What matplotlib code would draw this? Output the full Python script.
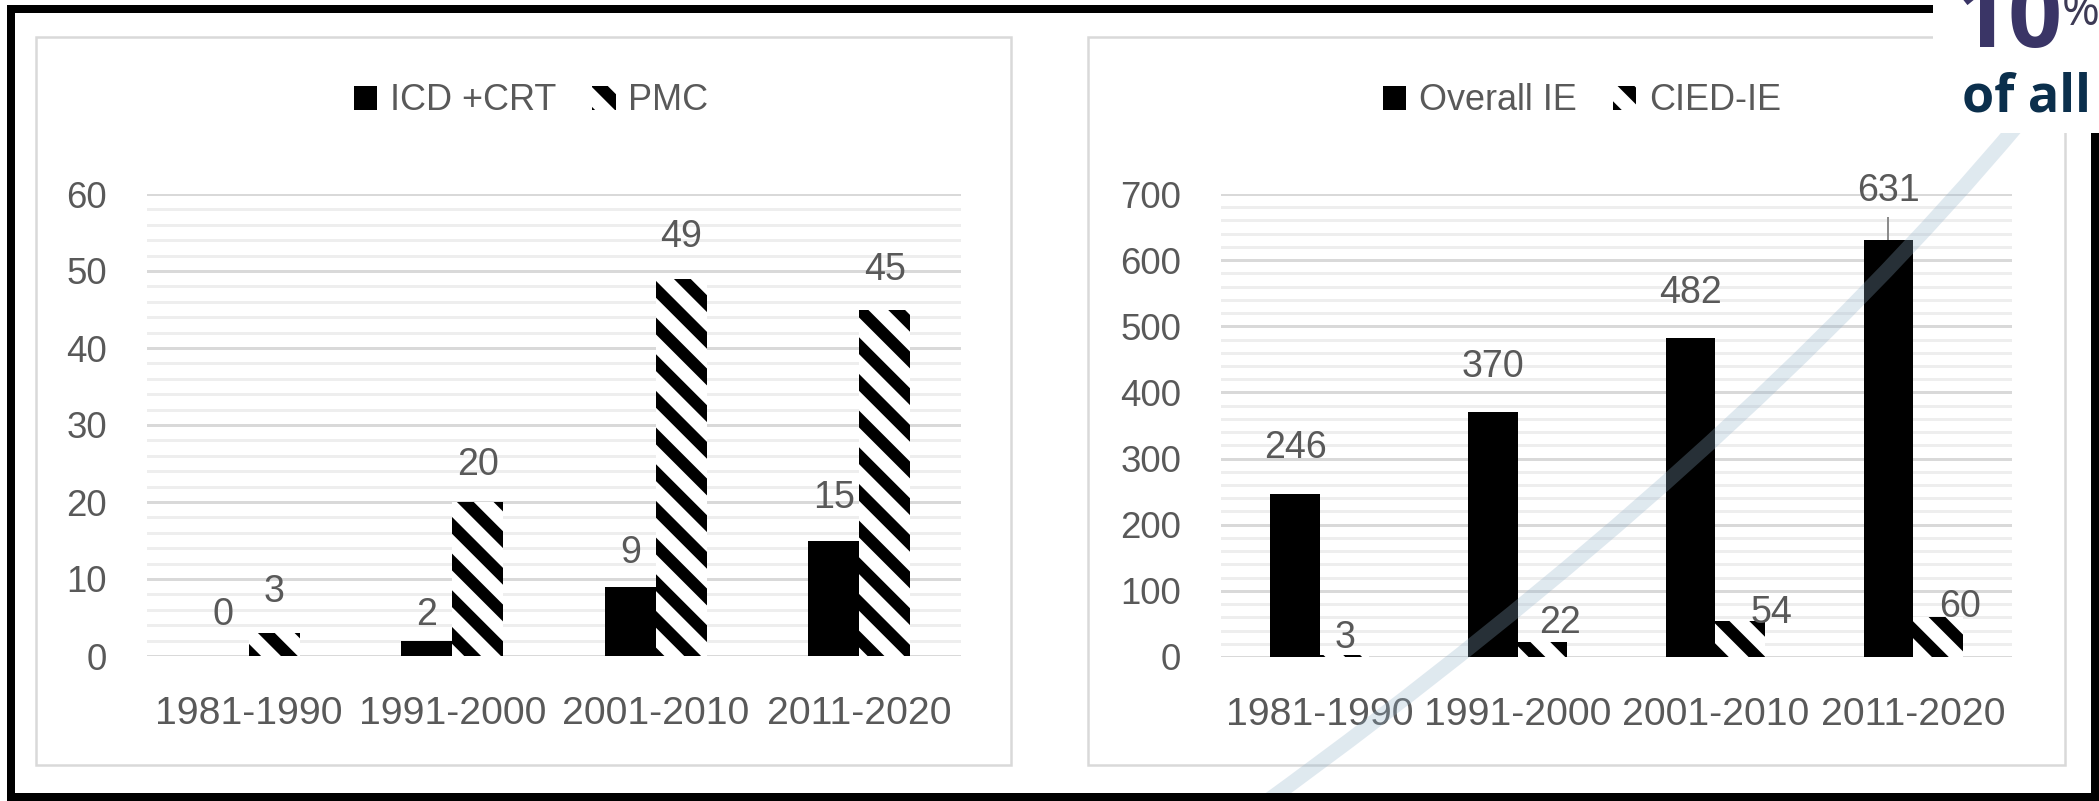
import matplotlib
matplotlib.use('Agg')
import matplotlib.pyplot as plt
import numpy as np
from matplotlib.patches import Rectangle, PathPatch
from matplotlib.path import Path

# data
decades = ['1981-1990', '1991-2000', '2001-2010', '2011-2020']
icd_crt = [0, 2, 9, 15]
pmc = [3, 20, 49, 45]
overall_ie = [246, 370, 482, 631]
overall_ie_err = [0, 0, 0, 34]
cied_ie = [3, 22, 54, 60]

# label offsets in pixels (the source placed some labels by hand)
icd_dy = [31, 16, 24, 32]
pmc_dy = [31, 27, 32, 30]
overall_dy = [36, 35, 35, 39]
cied_dx = [0, 18, 31, 22]
cied_dy = [7, 9, -2, 0]

W, H, DPI = 2099, 801, 220
TEXT = '#595959'

plt.rcParams['font.family'] = ['Liberation Sans', 'DejaVu Sans']
plt.rcParams['hatch.linewidth'] = 3.9


def px(v):
    """pixels -> points"""
    return v * 72 / DPI


def fx(x):
    return x / W


def fy(y):
    return 1 - y / H


fig = plt.figure(figsize=(W / DPI, H / DPI), dpi=DPI)
fig.patch.set_facecolor('white')

# light grey chart boxes
for x0, x1 in [(36, 1011), (1088, 2065)]:
    fig.add_artist(Rectangle((fx(x0), fy(765)), fx(x1 - x0), (765 - 37) / H,
                             transform=fig.transFigure, facecolor='white',
                             edgecolor='#d9d9d9', lw=px(2.5), zorder=-1))

ax1 = fig.add_axes([fx(147), fy(656), fx(814), 462 / H])
ax2 = fig.add_axes([fx(1221), fy(657), fx(791), 463 / H])


def style(ax, top, major, minor):
    ax.set_facecolor('none')
    ax.set_xlim(-0.5, 3.5)
    ax.set_ylim(0, top)
    ax.set_yticks(np.arange(0, top + 1, major))
    ax.set_yticks(np.arange(0, top + 1, minor), minor=True)
    ax.grid(which='major', axis='y', color='#d9d9d9', lw=px(3))
    ax.grid(which='minor', axis='y', color='#eeeeee', lw=px(3))
    ax.set_axisbelow(True)
    for s in ax.spines.values():
        s.set_visible(False)
    ax.tick_params(which='both', length=0)
    ax.tick_params(axis='x', pad=px(40), labelsize=12.8, labelcolor=TEXT)
    ax.tick_params(axis='y', pad=px(40), labelsize=12, labelcolor=TEXT)
    ax.set_xticks(range(len(decades)))
    ax.set_xticklabels(decades)


style(ax1, 60, 10, 2)
style(ax2, 700, 100, 20)

x = np.arange(len(decades))
w = 0.25
HATCH = '\\\\'

# left chart
b1 = ax1.bar(x - w / 2, icd_crt, w, color='black', zorder=2)
b2 = ax1.bar(x + w / 2, pmc, w, facecolor='white', edgecolor='black',
             hatch=HATCH, lw=0, zorder=2)

# right chart
ax2.errorbar(x - w / 2, overall_ie, yerr=overall_ie_err, fmt='none',
             ecolor='#8c8c8c', elinewidth=px(2), capsize=0, zorder=1.9)
b3 = ax2.bar(x - w / 2, overall_ie, w, color='black', zorder=2)
b4 = ax2.bar(x + w / 2, cied_ie, w, facecolor='white', edgecolor='black',
             hatch=HATCH, lw=0, zorder=2)


def labels(ax, xs, vals, dxs, dys):
    for xi, v, dx, dy in zip(xs, vals, dxs, dys):
        ax.annotate(str(v), (xi, v), xytext=(px(dx), px(dy)),
                    textcoords='offset points', ha='center', va='baseline',
                    fontsize=12.3, color=TEXT, zorder=3)


labels(ax1, x - w / 2, icd_crt, [0] * 4, icd_dy)
labels(ax1, x + w / 2, pmc, [0] * 4, pmc_dy)
labels(ax2, x - w / 2, overall_ie, [0] * 4, overall_dy)
labels(ax2, x + w / 2, cied_ie, cied_dx, cied_dy)

leg_kw = dict(loc='center', ncol=2, frameon=False, fontsize=11.8,
              labelcolor=TEXT, handlelength=0.65, handleheight=0.65,
              handletextpad=0.35, columnspacing=1.0, borderpad=0)
fig.legend([b1, b2], ['ICD +CRT', 'PMC'],
           bbox_to_anchor=(fx(531), fy(101)), **leg_kw)
fig.legend([b3, b4], ['Overall IE', 'CIED-IE'],
           bbox_to_anchor=(fx(1582), fy(101)), **leg_kw)

# faint blue swoosh crossing the right chart
swoosh = Path([(fx(1262), fy(805)), (fx(1735), fy(462)), (fx(2020), fy(122))],
              [Path.MOVETO, Path.CURVE3, Path.CURVE3])
fig.add_artist(PathPatch(swoosh, transform=fig.transFigure, facecolor='none',
                         edgecolor='#8fb0c8', alpha=0.28, lw=px(15), zorder=5))

# black screenshot frame
fig.add_artist(Rectangle((fx(11), fy(797)), fx(2084), 788 / H,
                         transform=fig.transFigure, facecolor='none',
                         edgecolor='black', lw=px(8), zorder=6))

# white corner box with the "10% of all" snippet
fig.add_artist(Rectangle((fx(1933), fy(133)), fx(166), 133 / H,
                         transform=fig.transFigure, facecolor='white',
                         edgecolor='none', zorder=7))
fig.text(fx(1954), fy(47), '10', fontsize=31, fontweight='bold',
         color='#3a3566', family='Open Sans', va='baseline', zorder=8)
fig.text(fx(2062), fy(25), '%', fontsize=15, color='#3d3a55',
         family='Open Sans', va='baseline', zorder=8)
fig.text(fx(1962), fy(112), 'of all', fontsize=17, fontweight='bold',
         color='#0b2f4c', family='Open Sans', va='baseline', zorder=8)

fig.savefig('out.png', dpi=DPI)
